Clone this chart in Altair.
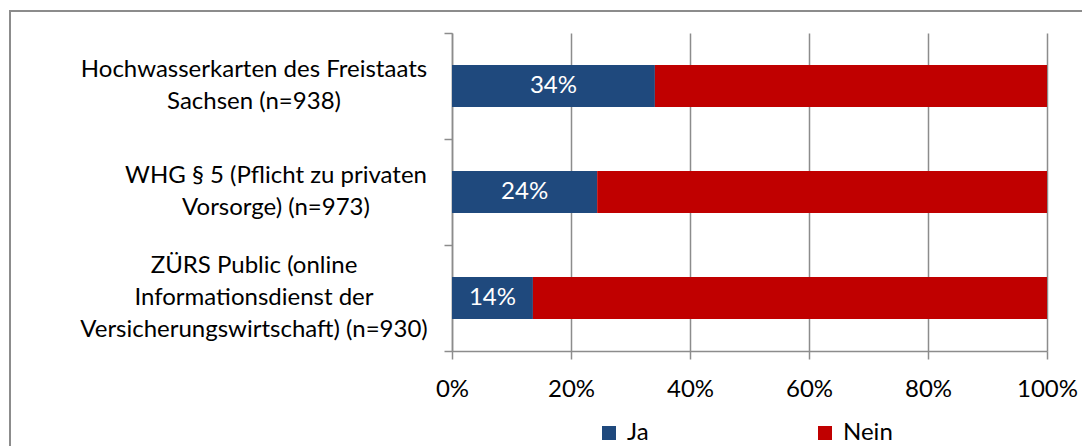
import altair as alt
import pandas as pd

categories = [
    "Hochwasserkarten des Freistaats|Sachsen (n=938)",
    "WHG § 5 (Pflicht zu privaten|Vorsorge) (n=973)",
    "ZÜRS Public (online|Informationsdienst der|Versicherungswirtschaft) (n=930)",
]
ja = [34.1, 24.4, 13.6]
nein = [65.9, 75.6, 86.4]
series = ["Ja", "Nein"]
colors = ["#1F497D", "#C00000"]
x_ticks = [0, 20, 40, 60, 80, 100]
# horizontal centre of each category label block, px left of the plot
label_centres = [198, 176, 198]

rows = []
for c, a, b in zip(categories, ja, nein):
    rows.append({"cat": c, "series": "Ja", "value": a, "order": 0})
    rows.append({"cat": c, "series": "Nein", "value": b, "order": 1})
df = pd.DataFrame(rows)
lab = pd.DataFrame({"cat": categories, "ja": ja})

FONT = "Lato"
FS = 24
LH = 32
GRID = "#8c8c8c"

y_scale = alt.Scale(domain=categories, paddingInner=0, paddingOuter=0)

y_enc = alt.Y(
    "cat:N",
    sort=categories,
    title=None,
    scale=y_scale,
    axis=alt.Axis(
        labels=False,
        tickBand="extent",
        tickSize=8,
        tickColor=GRID,
        tickWidth=1.5,
        domainColor=GRID,
        domainWidth=1.5,
        grid=False,
    ),
)

bars = alt.Chart(df).mark_bar(size=42).encode(
    x=alt.X(
        "value:Q",
        stack="zero",
        title=None,
        scale=alt.Scale(domain=[0, 100], nice=False),
        axis=alt.Axis(
            values=x_ticks,
            labelExpr="datum.value + '%'",
            labelFlush=False,
            grid=True,
            gridColor=GRID,
            gridWidth=1.5,
            tickSize=8,
            tickColor=GRID,
            tickWidth=1.5,
            domainColor=GRID,
            domainWidth=1.5,
            labelPadding=18,
        ),
    ),
    y=y_enc,
    color=alt.Color(
        "series:N",
        scale=alt.Scale(domain=series, range=colors),
        legend=alt.Legend(
            title=None,
            orient="none",
            direction="horizontal",
            legendX=145,
            legendY=388,
            symbolType="square",
            symbolSize=196,
            symbolStrokeWidth=0,
            labelFontSize=FS,
            labelFont=FONT,
            labelColor="#000000",
            labelOffset=6,
            columnPadding=164,
            padding=0,
        ),
    ),
    order=alt.Order("order:Q"),
)

texts = alt.Chart(lab).transform_calculate(
    mid="datum.ja / 2",
    txt="format(datum.ja, '.0f') + '%'",
).mark_text(color="white", font=FONT, fontSize=FS, baseline="middle").encode(
    x="mid:Q",
    y=alt.Y("cat:N", sort=categories, scale=y_scale),
    text="txt:N",
)

cat_labels = []
for c, centre in zip(categories, label_centres):
    n_lines = c.count("|") + 1
    cat_labels.append(
        alt.Chart(lab)
        .transform_filter(alt.datum.cat == c)
        .mark_text(
            font=FONT,
            fontSize=FS,
            lineHeight=LH,
            lineBreak="|",
            align="center",
            baseline="middle",
            color="#000000",
            dy=-(n_lines - 1) * LH / 2,
        )
        .encode(
            x=alt.value(-centre),
            y=alt.Y("cat:N", sort=categories, scale=y_scale),
            text="cat:N",
        )
    )

frame = alt.Chart(pd.DataFrame({"a": [0]})).mark_rect(
    filled=False, stroke=GRID, strokeWidth=2
).encode(
    x=alt.value(-442), x2=alt.value(700), y=alt.value(-22), y2=alt.value(500)
)

chart = alt.layer(frame, bars, texts, *cat_labels).properties(
    width=595,
    height=318,
    padding={"left": 444, "top": 25, "right": 35, "bottom": 95},
    autosize=alt.AutoSizeParams(type="none"),
).configure_view(stroke=None).configure_axis(
    labelFont=FONT, labelFontSize=FS, labelColor="#000000"
)

chart.save("out.html", embed_options={"renderer": "svg", "actions": False})
